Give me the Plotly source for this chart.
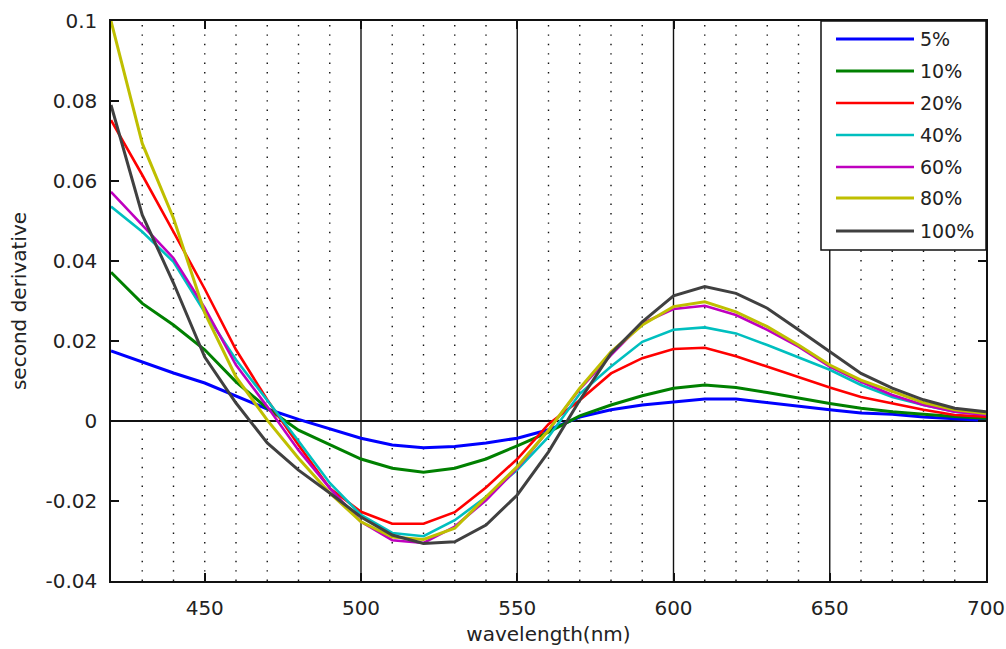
import plotly.graph_objects as go

wavelength = [420, 430, 440, 450, 460, 470, 480, 490, 500, 510, 520, 530, 540, 550, 560,
              570, 580, 590, 600, 610, 620, 630, 640, 650, 660, 670, 680, 690, 700]

s5 = [0.0175, 0.0148, 0.0120, 0.0095, 0.0063, 0.0030, 0.0004, -0.0020, -0.0043, -0.0060,
      -0.0067, -0.0064, -0.0055, -0.0043, -0.0022, 0.0010, 0.0028, 0.0040, 0.0048, 0.0055,
      0.0055, 0.0046, 0.0036, 0.0028, 0.0020, 0.0017, 0.0010, 0.0005, 0.0001]
s10 = [0.0372, 0.0294, 0.0240, 0.0178, 0.0098, 0.0032, -0.0023, -0.0060, -0.0095, -0.0118,
       -0.0128, -0.0118, -0.0095, -0.0062, -0.0028, 0.0013, 0.0040, 0.0063, 0.0082, 0.0090,
       0.0084, 0.0071, 0.0057, 0.0044, 0.0032, 0.0023, 0.0017, 0.0011, 0.0007]
s20 = [0.0752, 0.0615, 0.0473, 0.0330, 0.0178, 0.0053, -0.0060, -0.0168, -0.0227, -0.0257,
       -0.0257, -0.0228, -0.0166, -0.0095, -0.0008, 0.0052, 0.0119, 0.0157, 0.0180, 0.0183,
       0.0162, 0.0136, 0.0110, 0.0084, 0.0060, 0.0044, 0.0028, 0.0015, 0.0011]
s40 = [0.0536, 0.0473, 0.0398, 0.0272, 0.0153, 0.0053, -0.0050, -0.0155, -0.0235, -0.0280,
       -0.0288, -0.0248, -0.0190, -0.0122, -0.0040, 0.0068, 0.0136, 0.0198, 0.0228, 0.0234,
       0.0219, 0.0190, 0.0160, 0.0128, 0.0090, 0.0060, 0.0040, 0.0023, 0.0017]
s60 = [0.0573, 0.0490, 0.0407, 0.0283, 0.0140, 0.0036, -0.0073, -0.0168, -0.0252, -0.0298,
       -0.0305, -0.0264, -0.0198, -0.0118, -0.0023, 0.0080, 0.0165, 0.0244, 0.0280, 0.0288,
       0.0265, 0.0228, 0.0186, 0.0136, 0.0098, 0.0065, 0.0040, 0.0023, 0.0015]
s80 = [0.1000, 0.0694, 0.0507, 0.0270, 0.0110, 0.0002, -0.0093, -0.0180, -0.0252, -0.0290,
       -0.0296, -0.0268, -0.0190, -0.0114, -0.0023, 0.0082, 0.0173, 0.0240, 0.0286, 0.0298,
       0.0273, 0.0236, 0.0190, 0.0140, 0.0102, 0.0073, 0.0046, 0.0028, 0.0019]
s100 = [0.0790, 0.0515, 0.0345, 0.0160, 0.0045, -0.0055, -0.0123, -0.0180, -0.0240, -0.0285,
        -0.0306, -0.0302, -0.0260, -0.0185, -0.0077, 0.0052, 0.0169, 0.0248, 0.0313, 0.0336,
        0.0319, 0.0282, 0.0228, 0.0173, 0.0119, 0.0082, 0.0053, 0.0032, 0.0023]

series_names = ["5%", "10%", "20%", "40%", "60%", "80%", "100%"]
series_values = [s5, s10, s20, s40, s60, s80, s100]
series_colors = ["#0000FF", "#008000", "#FF0000", "#00BFBF", "#BF00BF", "#BFBF00", "#404040"]
series_widths = [3, 3, 2.6, 2.6, 2.6, 3, 3]

x_tickvals = [450, 500, 550, 600, 650, 700]
x_ticktext = ["450", "500", "550", "600", "650", "700"]
y_tickvals = [-0.04, -0.02, 0, 0.02, 0.04, 0.06, 0.08, 0.1]
y_ticktext = ["-0.04", "-0.02", "0", "0.02", "0.04", "0.06", "0.08", "0.1"]

solid_grid = [500, 550, 600, 650]
dotted_grid = [430, 440, 450, 460, 470, 480, 490, 510, 520, 530, 540, 560, 570, 580, 590,
               610, 620, 630, 640, 660, 670, 680, 690]

FONT = "DejaVu Sans, Arial, sans-serif"
TXT = "#222222"

fig = go.Figure()
for name, vals, col, lw in zip(series_names, series_values, series_colors, series_widths):
    fig.add_trace(go.Scatter(x=wavelength, y=vals, mode="lines", name=name,
                             line=dict(color=col, width=lw), showlegend=False))

shapes = []
for gx in dotted_grid:
    shapes.append(dict(type="line", xref="x", yref="paper", x0=gx, x1=gx, y0=0, y1=1,
                       line=dict(color="#111111", width=1.4, dash="1.4px,8px"), layer="below"))
for gx in solid_grid:
    shapes.append(dict(type="line", xref="x", yref="paper", x0=gx, x1=gx, y0=0, y1=1,
                       line=dict(color="#111111", width=1.4), layer="below"))

W = 875.0
H = 560.0
def px(p):
    return (p - 111) / W
def py(p):
    return (581 - p) / H

shapes.append(dict(type="rect", xref="paper", yref="paper", x0=px(821), x1=1.0,
                   y0=py(250), y1=1.0, fillcolor="white",
                   line=dict(color="#111111", width=1.5), layer="above"))
legend_y = [39, 71, 103, 135, 167, 198, 231]
annotations = []
for name, col, lw, ly in zip(series_names, series_colors, series_widths, legend_y):
    shapes.append(dict(type="line", xref="paper", yref="paper", x0=px(836), x1=px(914),
                       y0=py(ly), y1=py(ly), line=dict(color=col, width=lw), layer="above"))
    annotations.append(dict(xref="paper", yref="paper", x=px(918), y=py(ly), text=name,
                            showarrow=False, xanchor="left", yanchor="middle",
                            font=dict(family=FONT, size=19, color=TXT)))

fig.update_layout(
    width=1006, height=649,
    margin=dict(l=111, r=20, t=21, b=68, autoexpand=False),
    paper_bgcolor="white", plot_bgcolor="white",
    shapes=shapes, annotations=annotations,
    font=dict(family=FONT, size=20, color=TXT),
)
fig.update_xaxes(range=[420, 700], tickvals=x_tickvals, ticktext=x_ticktext,
                 automargin=False,
                 showgrid=False, zeroline=False, showline=True, linecolor="#111111",
                 linewidth=1.5, mirror="ticks", ticks="inside", ticklen=8, tickcolor="#111111",
                 tickwidth=1.5, ticklabelstandoff=8,
                 title=dict(text="wavelength(nm)", standoff=8, font=dict(size=20)),
                 tickfont=dict(size=20))
fig.update_yaxes(range=[-0.04, 0.1], tickvals=y_tickvals, ticktext=y_ticktext,
                 automargin=False,
                 showgrid=False, zeroline=True, zerolinecolor="#111111", zerolinewidth=1.5,
                 showline=True, linecolor="#111111", linewidth=1.5, mirror="ticks",
                 ticks="inside", ticklen=8, tickcolor="#111111", tickwidth=1.5,
                 ticklabelstandoff=8,
                 title=dict(text="second derivative", standoff=14, font=dict(size=20)),
                 tickfont=dict(size=20))

fig.write_html("out.html")
